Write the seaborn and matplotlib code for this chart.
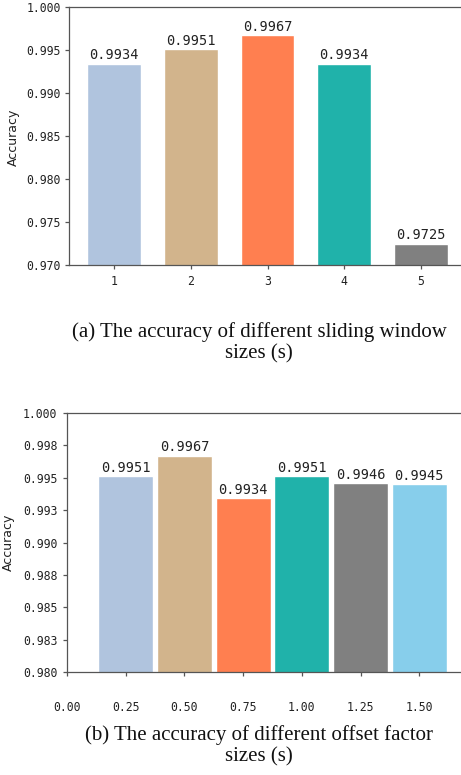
import numpy as np
import pandas as pd
import seaborn as sns
import matplotlib
matplotlib.use("Agg")
import matplotlib.pyplot as plt

# (a) sliding window sizes
win_sizes = [1, 2, 3, 4, 5]
win_acc = [0.9934, 0.9951, 0.9967, 0.9934, 0.9725]
win_colors = ["lightsteelblue", "tan", "coral", "lightseagreen", "gray"]
win_yticks = [0.970, 0.975, 0.980, 0.985, 0.990, 0.995, 1.000]
win_yticklabels = ["0.970", "0.975", "0.980", "0.985", "0.990", "0.995", "1.000"]

# (b) offset factor sizes
off_sizes = [0.25, 0.50, 0.75, 1.00, 1.25, 1.50]
off_acc = [0.9951, 0.9967, 0.9934, 0.9951, 0.9946, 0.9945]
off_colors = ["lightsteelblue", "tan", "coral", "lightseagreen", "gray", "skyblue"]
off_xticks = [0.0, 0.25, 0.50, 0.75, 1.00, 1.25, 1.50]
off_xticklabels = ["0.00", "0.25", "0.50", "0.75", "1.00", "1.25", "1.50"]
off_yticks = [0.980, 0.9825, 0.985, 0.9875, 0.990, 0.9925, 0.995, 0.9975, 1.000]
off_yticklabels = ["0.980", "0.983", "0.985", "0.988", "0.990", "0.993", "0.995", "0.998", "1.000"]

sns.set_theme(style="ticks")
plt.rcParams['font.family'] = ['DejaVu Sans']
spine_col = "#555555"
mono = "DejaVu Sans Mono"

fig = plt.figure(figsize=(4.61, 7.75), dpi=100)
W, H = 461, 775
ax1 = fig.add_axes([69 / W, 1 - 265 / H, 1 - 69 / W, (265 - 7) / H])
ax2 = fig.add_axes([67 / W, 1 - 672 / H, 1 - 67 / W, (672 - 413) / H])


def draw(ax, xs, ys, colors, width):
    labs = [str(x) for x in xs]
    df = pd.DataFrame({"x": xs, "acc": ys, "lab": labs})
    sns.barplot(data=df, x="x", y="acc", hue="lab", native_scale=True,
                palette=dict(zip(labs, colors)), width=width, dodge=False,
                legend=False, ax=ax, saturation=1)
    for c in ax.containers:
        ax.bar_label(c, fmt="%.4f", padding=1, fontsize=9.8, family=mono, color="#222222")
    for s in ["left", "bottom", "top"]:
        ax.spines[s].set_color(spine_col)
        ax.spines[s].set_linewidth(0.9)
    ax.spines["right"].set_visible(False)
    ax.tick_params(colors=spine_col, labelcolor="#222222", length=3, width=0.9)
    ax.set_xlabel("")
    ax.set_ylabel("Accuracy", fontsize=9, color="#222222")


draw(ax1, win_sizes, win_acc, win_colors, 0.7)
ax1.set_xlim(0.414, 5.52)
ax1.set_ylim(0.970, 1.000)
ax1.set_xticks(win_sizes)
ax1.set_xticklabels([str(x) for x in win_sizes], family=mono, fontsize=8.3)
ax1.set_yticks(win_yticks)
ax1.set_yticklabels(win_yticklabels, family=mono, fontsize=8.3)
ax1.tick_params(axis="x", pad=4)
ax1.tick_params(axis="y", pad=3)
ax1.yaxis.set_label_coords(20 / W, 1 - 137.5 / H, transform=fig.transFigure)

draw(ax2, off_sizes, off_acc, off_colors, 0.936)
ax2.set_xlim(0.0, 1.678)
ax2.set_ylim(0.980, 1.000)
ax2.set_xticks(off_xticks)
ax2.set_xticklabels(off_xticklabels, family=mono, fontsize=8.3)
ax2.set_yticks(off_yticks)
ax2.set_yticklabels(off_yticklabels, family=mono, fontsize=8.3)
ax2.tick_params(axis="x", pad=18)
ax2.tick_params(axis="y", pad=4)
ax2.yaxis.set_label_coords(15 / W, 1 - 542.5 / H, transform=fig.transFigure)

fig.text(259 / W, 1 - 343 / H, "(a) The accuracy of different sliding window\nsizes (s)",
         ha="center", va="center", multialignment="center",
         family="Liberation Serif", fontsize=15, linespacing=1.15, color="#111111")
fig.text(259 / W, 1 - 746 / H, "(b) The accuracy of different offset factor\nsizes (s)",
         ha="center", va="center", multialignment="center",
         family="Liberation Serif", fontsize=15, linespacing=1.15, color="#111111")

fig.savefig("out.png", dpi=100)
